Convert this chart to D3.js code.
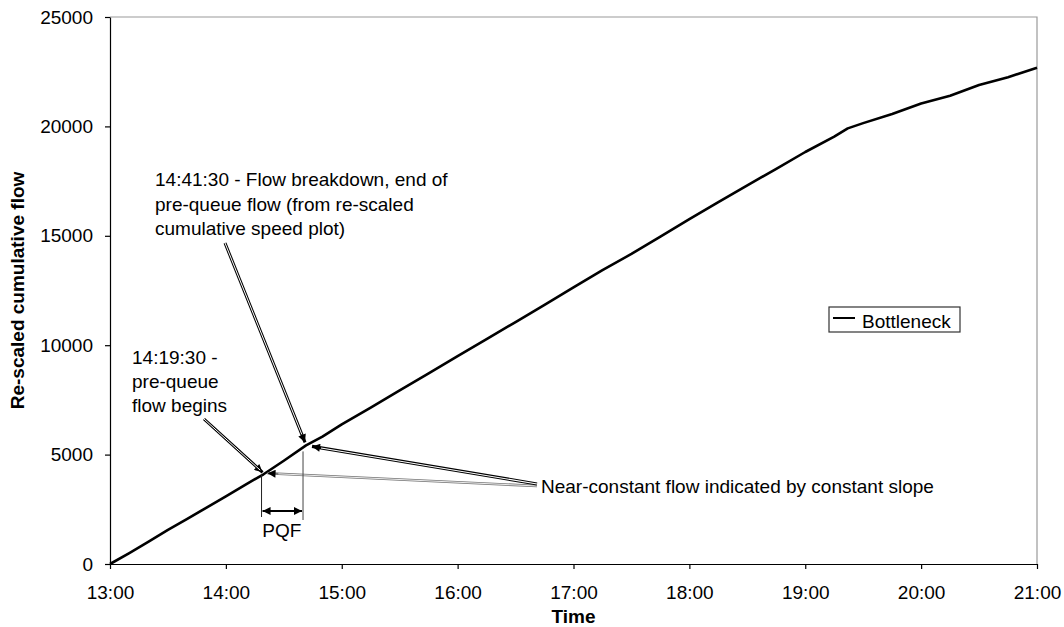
<!DOCTYPE html>
<html>
<head>
<meta charset="utf-8">
<script src="https://cdn.jsdelivr.net/npm/d3@7"></script>
<style>
  body { margin: 0; background: #fff; }
  svg { font-family: "Liberation Sans", Arial, sans-serif; }
</style>
</head>
<body>
<div id="chart"></div>
<script>
// cumulative flow, one value per clock time
var times = ['13:00','13:10','13:20','13:30','13:40','13:50','14:00','14:10','14:19:30','14:30','14:41:30',
  '14:50','15:00','15:15','15:30','15:45','16:00','16:15','16:30','16:45','17:00','17:15','17:30','17:45',
  '18:00','18:15','18:30','18:45','19:00','19:15','19:22','19:30','19:45','20:00','20:15','20:30','20:45','21:00']
var flow = [0,500,1020,1560,2060,2580,3090,3620,4100,4720,5420,
  5820,6380,7150,7930,8710,9500,10280,11060,11840,12640,13430,14170,14960,
  15760,16540,17310,18060,18830,19530,19910,20150,20570,21050,21400,21890,22250,22680]

var xTicks = [13,14,15,16,17,18,19,20,21]
var yTicks = [0,5000,10000,15000,20000,25000]
var seriesName = 'Bottleneck'

// annotation anchors in data space (time, flow)
var pqfStart = ['14:19:30', 4100]
var pqfEnd = ['14:41:30', 5420]

var toHours = t => {
  var p = t.split(':').map(Number)
  return p[0] + p[1]/60 + (p[2]||0)/3600
}
var data = times.map((t,i)=>({h:toHours(t),v:flow[i]}))

var width = 1064, height = 627
var plotL = 110, plotR = 1037, plotT = 17, plotB = 564
var fs = 19

var svg = d3.select('#chart')
    .append('svg')
    .attr('width',width)
    .attr('height',height)

var x = d3.scaleLinear().domain([13,21]).range([plotL,plotR])
var y = d3.scaleLinear().domain([0,25000]).range([plotB,plotT])

var defs = svg.append('defs')
defs.append('marker')
    .attr('id','head')
    .attr('markerUnits','userSpaceOnUse')
    .attr('viewBox','0 0 10 10')
    .attr('refX',10).attr('refY',5)
    .attr('markerWidth',10).attr('markerHeight',8)
    .attr('orient','auto-start-reverse')
  .append('path')
    .attr('d','M0,0 L10,5 L0,10 Z')
    .attr('fill','#000')

// frame: grey top/right, black axes
svg.append('path')
    .attr('d',`M${plotL},${plotT}H${plotR}V${plotB}`)
    .attr('fill','none')
    .attr('stroke','#9a9a9a')
    .attr('stroke-width',1.2)

var gy = svg.append('g')
    .attr('transform',`translate(${plotL},0)`)
    .call(d3.axisLeft(y).tickValues(yTicks).tickFormat(d3.format('d')).tickSize(5).tickSizeOuter(0).tickPadding(12))
var gx = svg.append('g')
    .attr('transform',`translate(0,${plotB})`)
    .call(d3.axisBottom(x).tickValues(xTicks).tickFormat(h=>h+':00').tickSize(5).tickSizeOuter(0))

;[gy,gx].forEach(g=>{
  g.attr('font-family',null).attr('font-size',null)
  g.selectAll('text').attr('font-size',fs).attr('fill','#000')
  g.selectAll('line,path').attr('stroke','#000').attr('stroke-width',1.2)
})
gx.selectAll('text').attr('dy',null).attr('y',35)

// axis titles
svg.append('text')
    .attr('transform',`translate(24,${(plotT+plotB)/2}) rotate(-90)`)
    .attr('text-anchor','middle')
    .attr('font-size',fs).attr('font-weight','bold')
    .text('Re-scaled cumulative flow')
svg.append('text')
    .attr('x',(plotL+plotR)/2).attr('y',623)
    .attr('text-anchor','middle')
    .attr('font-size',fs).attr('font-weight','bold')
    .text('Time')

// the series
svg.append('path')
    .datum(data)
    .attr('d',d3.line().x(d=>x(d.h)).y(d=>y(d.v)))
    .attr('fill','none')
    .attr('stroke','#000')
    .attr('stroke-width',2.6)
    .attr('stroke-linejoin','round')

// legend
var lg = svg.append('g').attr('transform','translate(829,307)')
lg.append('rect').attr('width',131).attr('height',25)
    .attr('fill','#fff').attr('stroke','#333').attr('stroke-width',1.2)
lg.append('line').attr('x1',4).attr('x2',26).attr('y1',11).attr('y2',11)
    .attr('stroke','#000').attr('stroke-width',2)
lg.append('text').attr('x',33).attr('y',20.5).attr('font-size',fs).text(seriesName)

// annotations
var pA = [x(toHours(pqfStart[0])), y(pqfStart[1])]
var pB = [x(toHours(pqfEnd[0])), y(pqfEnd[1])]

var hollowArrow = (x1,y1,x2,y2,outer,inner,w) => {
  svg.append('line').attr('x1',x1).attr('y1',y1).attr('x2',x2).attr('y2',y2)
      .attr('stroke',outer).attr('stroke-width',w).attr('marker-end','url(#head)')
  svg.append('line').attr('x1',x1).attr('y1',y1).attr('x2',x2-(x2-x1)*0.04).attr('y2',y2-(y2-y1)*0.04)
      .attr('stroke',inner).attr('stroke-width',w/3)
}

var multi = (lines,x0,y0,dy) => {
  var t = svg.append('text').attr('font-size',fs)
  lines.forEach((s,i)=>t.append('tspan').attr('x',x0).attr('y',y0+i*dy).text(s))
}

multi(['14:41:30 - Flow breakdown, end of','pre-queue flow (from re-scaled','cumulative speed plot)'],155,186,24.5)
multi(['14:19:30 -','pre-queue','flow begins'],132,364,24)

hollowArrow(225,243,pB[0]-1,pB[1]-3,'#000','#fff',3)
hollowArrow(204,419,pA[0]-1,pA[1]-2,'#000','#fff',3)

// near-constant flow arrows
hollowArrow(537,486,pA[0]+4,pA[1]-1,'#777','#fff',2.6)
hollowArrow(537,484,pB[0]+6,pB[1]+1,'#000','#fff',3.2)
svg.append('text').attr('x',541).attr('y',493).attr('font-size',fs)
    .text('Near-constant flow indicated by constant slope')

// PQF span
svg.append('line').attr('x1',pA[0]-2).attr('x2',pA[0]-2).attr('y1',pA[1]).attr('y2',517)
    .attr('stroke','#222').attr('stroke-width',1)
svg.append('line').attr('x1',pB[0]-3).attr('x2',pB[0]-3).attr('y1',pB[1]+6).attr('y2',520)
    .attr('stroke','#444').attr('stroke-width',1)
svg.append('line').attr('x1',pA[0]-1).attr('x2',pB[0]-4).attr('y1',511).attr('y2',511)
    .attr('stroke','#000').attr('stroke-width',2.2)
    .attr('marker-start','url(#head)').attr('marker-end','url(#head)')
svg.append('text').attr('x',(pA[0]+pB[0])/2-3).attr('y',536.5).attr('text-anchor','middle')
    .attr('font-size',fs).text('PQF')
</script>
</body>
</html>
